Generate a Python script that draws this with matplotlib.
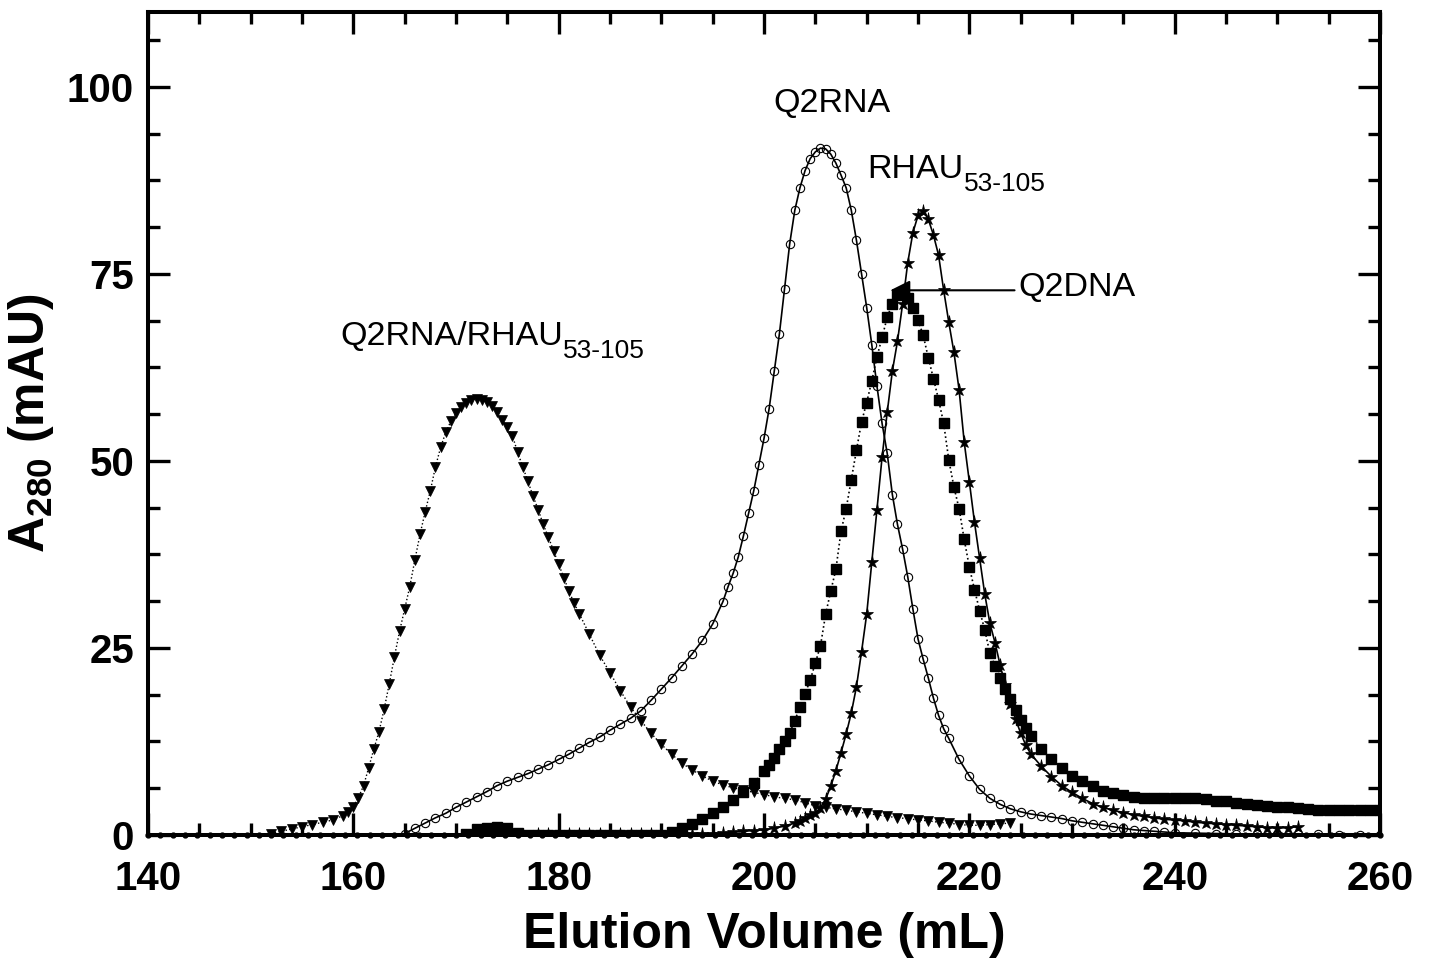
import numpy as np
import matplotlib
matplotlib.use("Agg")
import matplotlib.pyplot as plt
from matplotlib.ticker import MultipleLocator

plt.rcParams['font.family'] = ['Liberation Sans', 'DejaVu Sans']
plt.rcParams['mathtext.fontset'] = 'custom'
plt.rcParams['mathtext.rm'] = 'Liberation Sans'
plt.rcParams['mathtext.bf'] = 'Liberation Sans:bold'

# Q2RNA/RHAU53-105 complex (down triangles)
cplx_x = [152, 153, 154, 155, 156, 157, 158, 159, 159.5, 160, 160.5, 161, 161.5, 162, 162.5,
          163, 163.5, 164, 164.5, 165, 165.5, 166, 166.5, 167, 167.5, 168, 168.5, 169, 169.5,
          170, 170.5, 171, 171.5, 172, 172.5, 173, 173.5, 174, 174.5, 175, 175.5, 176, 176.5,
          177, 177.5, 178, 178.5, 179, 179.5, 180, 180.5, 181, 181.5, 182, 183, 184, 185, 186,
          187, 188, 189, 190, 191, 192, 193, 194, 195, 196, 197, 198, 199, 200, 201, 202, 203,
          204, 205, 206, 207, 208, 209, 210, 211, 212, 213, 214, 215, 216, 217, 218, 219, 220,
          221, 222, 223, 224]
cplx_y = [0.2, 0.5, 0.8, 1.1, 1.4, 1.7, 2.0, 2.6, 3.1, 3.8, 5.0, 6.6, 9.0, 11.5, 13.8,
          16.8, 20.2, 23.8, 27.2, 30.2, 33.2, 36.8, 40.2, 43.2, 46.0, 49.2, 51.8, 53.8, 55.3,
          56.4, 57.2, 57.8, 58.2, 58.3, 58.2, 57.9, 57.3, 56.5, 55.4, 54.5, 53.3, 51.2, 49.2,
          47.3, 45.3, 43.5, 41.5, 39.8, 38.0, 36.2, 34.4, 32.6, 31.0, 29.6, 26.8, 24.0, 21.7, 19.3,
          17.1, 15.3, 13.6, 12.1, 10.8, 9.6, 8.7, 7.9, 7.2, 6.7, 6.3, 6.0, 5.7, 5.4, 5.1, 4.9, 4.7,
          4.3, 3.9, 3.7, 3.5, 3.3, 3.1, 2.9, 2.7, 2.5, 2.3, 2.2, 2.0, 1.9, 1.7, 1.6, 1.4, 1.3,
          1.3, 1.4, 1.5, 1.6]

# Q2RNA (open circles)
rna_x = [165, 166, 167, 168, 169, 170, 171, 172, 173, 174, 175, 176, 177, 178, 179, 180,
         181, 182, 183, 184, 185, 186, 187, 188, 189, 190, 191, 192, 193, 194, 195, 196, 196.5,
         197, 197.5, 198, 198.5, 199, 199.5, 200, 200.5, 201, 201.5, 202, 202.5, 203, 203.5,
         204, 204.5, 205, 205.5, 206, 206.5, 207, 207.5, 208, 208.5, 209, 209.5, 210, 210.5,
         211, 211.5, 212, 212.5, 213, 213.5, 214, 214.5, 215, 215.5, 216, 216.5, 217, 217.5,
         218, 219, 220, 221, 222, 223, 224, 225, 226, 227, 228, 229, 230, 231, 232, 233, 234,
         235, 236, 237, 238, 239, 240, 242, 244, 246, 248, 250, 252, 254, 256, 258, 260]
rna_y = [0.2, 0.9, 1.6, 2.3, 2.9, 3.7, 4.4, 5.1, 5.8, 6.6, 7.2, 7.7, 8.2, 8.8, 9.4, 10.1,
         10.8, 11.6, 12.4, 13.1, 14.0, 14.8, 15.6, 16.6, 18.0, 19.5, 21.0, 22.6, 24.2, 26.0, 28.2,
         31.2, 33.2, 35.0, 37.2, 40.0, 43.0, 46.0, 49.5, 53.0, 57.0, 62.0, 67.0, 73.0, 79.0,
         83.5, 86.5, 88.8, 90.4, 91.3, 91.8, 91.7, 91.0, 89.8, 88.2, 86.5, 83.5, 79.5, 75.0,
         70.5, 65.5, 60.0, 55.0, 51.0, 45.5, 41.5, 38.2, 34.5, 30.2, 26.2, 23.5, 21.0, 18.3,
         16.0, 14.2, 12.9, 10.1, 7.9, 6.1, 4.9, 4.1, 3.5, 3.1, 2.8, 2.6, 2.4, 2.2, 1.9, 1.7,
         1.5, 1.3, 1.1, 0.9, 0.7, 0.6, 0.5, 0.4, 0.3, 0.25, 0.2, 0.15, 0.12, 0.1, 0.1, 0.08,
         0.05, 0.05, 0.05]

# RHAU53-105 (stars)
rhau_x = [178, 179, 180, 181, 182, 183, 184, 185, 186, 187, 188, 189, 190, 191, 192, 193,
          194, 195, 196, 197, 198, 199, 200, 201, 202, 203, 203.5, 204, 204.5, 205, 205.5, 206,
          206.5, 207, 207.5, 208, 208.5, 209, 209.5, 210, 210.5, 211, 211.5, 212, 212.5, 213,
          213.5, 214, 214.5, 215, 215.5, 216, 216.5, 217, 217.5, 218, 218.5, 219, 219.5, 220,
          220.5, 221, 221.5, 222, 222.5, 223, 223.5, 224, 224.5, 225, 225.5, 226, 227, 228, 229,
          230, 231, 232, 233, 234, 235, 236, 237, 238, 239, 240, 241, 242, 243, 244, 245, 246,
          247, 248, 249, 250, 251, 252]
rhau_y = [0.2, 0.2, 0.2, 0.2, 0.2, 0.2, 0.2, 0.2, 0.2, 0.2, 0.2, 0.2, 0.2, 0.2, 0.2, 0.2,
          0.2, 0.2, 0.3, 0.4, 0.5, 0.6, 0.7, 0.9, 1.2, 1.6, 1.9, 2.3, 2.7, 3.0, 3.6, 4.8,
          6.5, 8.6, 11.0, 13.5, 16.3, 19.8, 24.5, 29.5, 36.5, 43.5, 50.5, 56.5, 62.0, 66.0,
          71.0, 76.5, 80.5, 82.8, 83.4, 82.3, 80.2, 77.5, 72.8, 68.5, 64.5, 59.5, 52.5, 47.2,
          41.8, 37.0, 32.2, 28.3, 25.7, 22.7, 20.0, 17.5, 15.5, 13.6, 12.0, 10.8, 9.2, 7.8, 6.6,
          5.7, 4.9, 4.2, 3.7, 3.3, 3.0, 2.7, 2.5, 2.3, 2.1, 2.0, 1.9, 1.7, 1.6, 1.5, 1.4, 1.3,
          1.2, 1.1, 1.0, 0.9, 1.0, 1.1]

# Q2DNA (filled squares)
dna_x = [171, 172, 173, 174, 175, 176, 177, 178, 179, 180, 181, 182, 183, 184, 185, 186, 187,
         188, 189, 190, 191, 192, 193, 194, 195, 196, 197, 198, 199, 200, 200.5, 201, 201.5,
         202, 202.5, 203, 203.5, 204, 204.5, 205, 205.5, 206, 206.5, 207, 207.5, 208, 208.5,
         209, 209.5, 210, 210.5, 211, 211.5, 212, 212.5, 213, 213.5, 214, 214.5, 215, 215.5,
         216, 216.5, 217, 217.5, 218, 218.5, 219, 219.5, 220, 220.5, 221, 221.5, 222, 222.5,
         223, 223.5, 224, 224.5, 225, 225.5, 226, 227, 228, 229, 230, 231, 232, 233, 234, 235,
         236, 237, 238, 239, 240, 241, 242, 243, 244, 245, 246, 247, 248, 249, 250, 251, 252,
         253, 254, 255, 256, 257, 258, 259, 260]
dna_y = [0.2, 0.8, 1.0, 1.1, 0.9, 0.3, 0, 0, 0, 0, 0, 0, 0, 0, 0, 0, 0,
         0, 0, 0, 0.4, 0.9, 1.5, 2.2, 3.0, 3.8, 4.7, 5.8, 7.0, 8.5, 9.3, 10.3, 11.5,
         12.5, 13.6, 15.3, 17.1, 18.9, 20.7, 23.0, 25.3, 29.5, 32.6, 35.5, 40.6, 43.6, 47.5,
         51.4, 55.2, 57.8, 60.7, 63.9, 66.5, 69.2, 71.0, 72.2, 72.5, 71.8, 70.5, 68.8, 66.8,
         63.8, 61.0, 58.2, 55.0, 50.1, 46.5, 43.6, 39.5, 35.8, 32.8, 30.0, 27.4, 24.3, 22.6,
         21.0, 19.5, 18.2, 16.7, 15.4, 14.3, 13.3, 11.5, 10.1, 8.9, 7.9, 7.2, 6.5, 5.9, 5.6, 5.3,
         5.1, 5.0, 5.0, 5.0, 5.0, 5.0, 4.9, 4.8, 4.6, 4.5, 4.3, 4.2, 4.0, 3.9, 3.8, 3.7, 3.6,
         3.5, 3.4, 3.4, 3.3, 3.3, 3.3, 3.3, 3.3]

# buffer baseline dots along zero
base_x = np.arange(140, 260.1, 1.2)
base_y = np.zeros(len(base_x))

fig = plt.figure(figsize=(14.31, 9.64), dpi=100)
ax = fig.add_axes([0.1034, 0.1338, 0.861, 0.8538])

ax.plot(base_x, base_y, 'o', color='k', markersize=3.5, clip_on=False, zorder=3)
ax.plot(cplx_x, cplx_y, linestyle=':', color='k', lw=1.0, marker='v', markersize=6.5,
        markerfacecolor='k', markeredgecolor='k', markeredgewidth=0.5)
ax.plot(rna_x, rna_y, linestyle='-', color='k', lw=1.2, marker='o', markersize=6,
        markerfacecolor='none', markeredgecolor='k', markeredgewidth=0.8)
ax.plot(dna_x, dna_y, linestyle=':', color='k', lw=1.2, marker='s', markersize=6.5,
        markerfacecolor='k', markeredgecolor='k')
ax.plot(rhau_x, rhau_y, linestyle='-', color='k', lw=1.2, marker='*', markersize=9.5,
        markerfacecolor='k', markeredgecolor='k', markeredgewidth=0.5)

ax.set_xlim(140, 260)
ax.set_ylim(0, 110)
ax.xaxis.set_major_locator(MultipleLocator(20))
ax.xaxis.set_minor_locator(MultipleLocator(5))
ax.yaxis.set_major_locator(MultipleLocator(25))
ax.yaxis.set_minor_locator(MultipleLocator(6.25))
ax.tick_params(which='both', direction='in', top=True, right=True, width=2.4)
ax.tick_params(which='major', length=16, labelsize=29)
ax.tick_params(axis='x', which='major', pad=18)
ax.tick_params(axis='y', which='major', pad=10)
ax.tick_params(which='minor', length=8.5)
for lab in ax.get_xticklabels() + ax.get_yticklabels():
    lab.set_fontweight('bold')
for sp in ax.spines.values():
    sp.set_linewidth(2.9)

ax.set_xlabel('Elution Volume (mL)', fontsize=36, fontweight='bold', labelpad=10)
ax.set_ylabel(r'A$_{\mathbf{280}}$ (mAU)', fontsize=36, fontweight='bold', labelpad=8)


def label(x, y, main, sub=None):
    t = ax.text(x, y, main, fontsize=24.5, ha='left', va='center')
    if sub:
        ax.annotate(sub, xy=(1.0, 0.05), xycoords=t, fontsize=19,
                    ha='left', va='center')
    return t


label(200.9, 97.7, 'Q2RNA')
label(210.1, 88.9, 'RHAU', '53-105')
label(158.7, 66.6, 'Q2RNA/RHAU', '53-105')
label(224.8, 73.2, 'Q2DNA')
ax.annotate('', xy=(212.3, 72.8), xytext=(224.4, 72.8),
            arrowprops=dict(arrowstyle='-|>', color='k', lw=1.5, mutation_scale=30,
                            shrinkA=0, shrinkB=0))

fig.savefig('out.png', dpi=100)
